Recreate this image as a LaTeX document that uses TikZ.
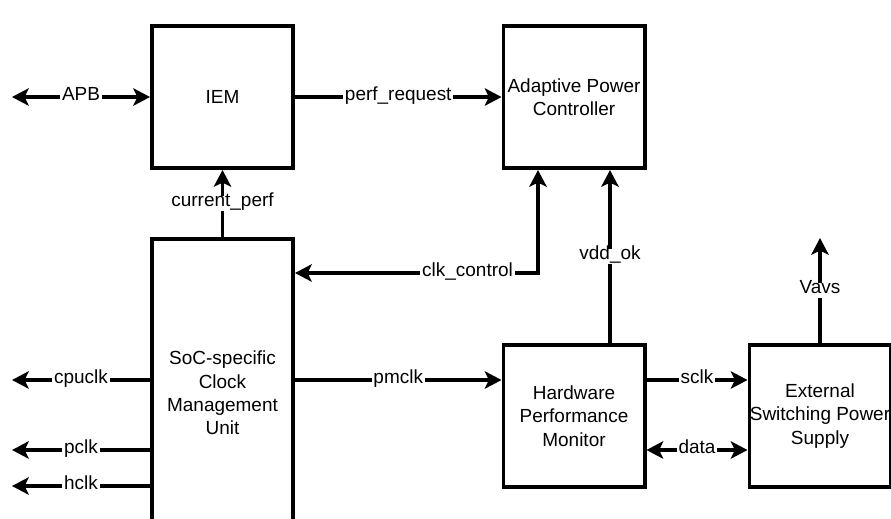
\documentclass[tikz,border=0pt]{standalone}
\usepackage{fontspec}
\setmainfont{Liberation Sans}
\usepackage{tikz}
\usetikzlibrary{arrows.meta,positioning,calc}

\begin{document}
\begin{tikzpicture}[
  x=0.03cm, y=-0.03cm,
  font=\fontsize{16.2pt}{19.9pt}\selectfont,
  >={Stealth[length=0.5cm, width=0.52cm, inset=0.12cm]},
  line width=3.3pt,
  every node/.style={align=center},
  blk/.style  = {draw, line width=3.4pt, minimum width=4.23cm, minimum height=4.26cm, inner sep=0pt},
  tall/.style = {blk, minimum height=9.24cm},
  sig/.style  = {fill=white, inner sep=1.5pt, text height=1.45ex, text depth=0.35ex}
]
\useasboundingbox (0,0) rectangle (891,518);

\node[blk] (iem) at (222.5, 97) {IEM};
\node[blk] (apc) at (574, 97) {Adaptive Power\\Controller};
\node[tall] (cmu) at (222.5, 393) {SoC-specific\\Clock\\Management\\Unit};
\node[blk] (hpm) at (574, 416) {Hardware\\Performance\\Monitor};
\node[blk] (esps) at (820, 416) {External\\Switching Power\\Supply};

\coordinate (apbEnd) at (12, 97);
\coordinate (cpuEnd) at (12, 380);
\coordinate (pEnd) at (12, 450);
\coordinate (hEnd) at (12, 486);
\coordinate (clkCorner) at (538, 273);
\coordinate (vddTap) at (610, 273);
\coordinate (vavsEnd) at (820, 238);

\draw[<->] (apbEnd) -- node[sig] {APB} (iem.west);
\draw[->] (iem.east) -- node[sig] {perf\_request} (apc.west);
\draw[->] (cmu.north) -- node[sig] {current\_perf} (iem.south);
\draw[<->] (clkCorner |- apc.south) -- (clkCorner)
  -- node[sig, pos=0.29] {clk\_control} (cmu.east |- clkCorner);
\draw[->] (vddTap |- hpm.north) -- node[sig] {vdd\_ok} (vddTap |- apc.south);
\draw[->] (cmu.west |- cpuEnd) -- node[sig] {cpuclk} (cpuEnd);
\draw[->] (cmu.east |- cpuEnd) -- node[sig] {pmclk} (hpm.west |- cpuEnd);
\draw[->] (cmu.west |- pEnd) -- node[sig] {pclk} (pEnd);
\draw[->] (cmu.west |- hEnd) -- node[sig] {hclk} (hEnd);
\draw[->] (hpm.east |- cpuEnd) -- node[sig] {sclk} (esps.west |- cpuEnd);
\draw[<->] (hpm.east |- pEnd) -- node[sig] {data} (esps.west |- pEnd);
\draw[->] (esps.north) -- node[sig] {Vavs} (vavsEnd);
\end{tikzpicture}
\end{document}
